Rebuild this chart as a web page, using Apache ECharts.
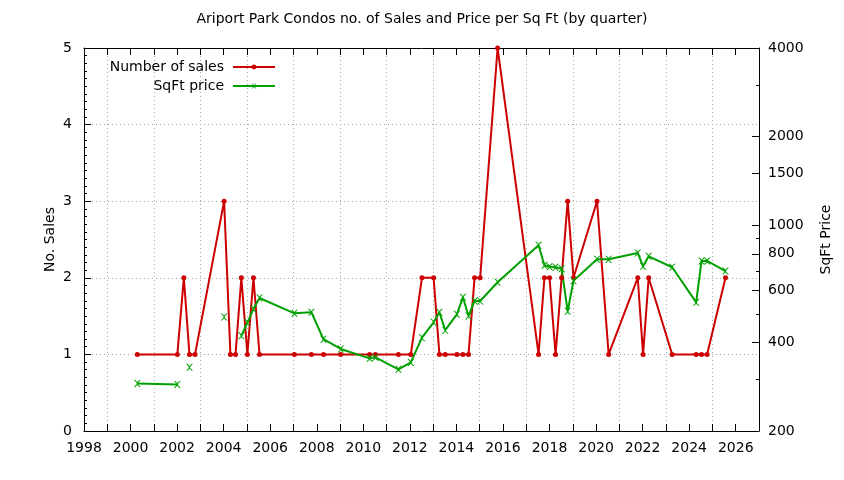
<!DOCTYPE html>
<html>
<head>
<meta charset="utf-8">
<script src="https://cdn.jsdelivr.net/npm/echarts@6/dist/echarts.min.js"></script>
<style>
html,body{margin:0;padding:0;background:#fff;}
#chart{width:844px;height:480px;}
</style>
</head>
<body>
<div id="chart"></div>
<script>
// Decimal years of each quarter with data
var quarters = [2000.29, 2002.01, 2002.29, 2002.53, 2002.77, 2004.02, 2004.29, 2004.51, 2004.76, 2005.02,
  2005.28, 2005.54, 2007.04, 2007.77, 2008.29, 2009.03, 2010.27, 2010.52, 2011.51, 2012.04,
  2012.52, 2013.02, 2013.27, 2013.52, 2014.02, 2014.28, 2014.52, 2014.78, 2015.02, 2015.77,
  2017.53, 2017.78, 2018.00, 2018.26, 2018.52, 2018.78, 2019.03, 2020.04, 2020.54, 2021.79,
  2022.02, 2022.26, 2023.27, 2024.30, 2024.53, 2024.77, 2025.56];
// Number of sales per quarter
var sales = [1, 1, 2, 1, 1, 3, 1, 1, 2, 1,
  2, 1, 1, 1, 1, 1, 1, 1, 1, 1,
  2, 2, 1, 1, 1, 1, 1, 2, 2, 5,
  1, 2, 2, 1, 2, 3, 2, 3, 1, 2,
  1, 2, 1, 1, 1, 1, 2];
// Price per sq ft per quarter (null = no value)
var sqftPrice = [290, 288, null, 329, null, 488, null, null, 421, 467,
  519, 566, 502, 506, 410, 380, 353, 356, 324, 342,
  415, 468, 506, 440, 498, 569, 492, 553, 553, 640,
  855, 731, 723, 720, 712, 510, 648, 766, 766, 805,
  725, 784, 720, 547, 756, 756, 699];
var priceLabelTicks = [200, 400, 600, 800, 1000, 1500, 2000, 4000];
var priceMinorTicks = [300, 500, 700, 900, 3000];
var titleText = 'Ariport Park Condos no. of Sales and Price per Sq Ft (by quarter)';

var FONT = 'DejaVu Sans';
var RED = '#cc0000', GREEN = '#00a000';
var GRIDCOL = '#a8a8a8';
var gridLine = {show: true, lineStyle: {color: GRIDCOL, type: [1, 3], width: 1}};

var salesData = quarters.map(function (q, i) { return [q, sales[i]]; });
var priceData = quarters.map(function (q, i) { return [q, sqftPrice[i] == null ? '-' : sqftPrice[i]]; });
var xMark = 'path://M0,0 L2,0 L5,3 L8,0 L10,0 L6,4 L6,6 L10,10 L8,10 L5,7 L2,10 L0,10 L4,6 L4,4 Z';

var PL = 84, PR = 85, PT = 48, PB = 49;
var yearPx = (844 - PL - PR) / (2027 - 1998);

var chart = echarts.init(document.getElementById('chart'), null, {renderer: 'canvas'});
var axLine = {show: true, onZero: false, lineStyle: {color: '#000', width: 1}};
var legendText = {fontFamily: FONT, fontSize: 14, color: '#000', padding: [0, 4, 0, 0]};
chart.setOption({
  animation: false,
  textStyle: {fontFamily: FONT},
  title: {text: titleText, left: 'center', top: 7,
    textStyle: {fontFamily: FONT, fontSize: 14, fontWeight: 'normal', color: '#000'}},
  grid: [
    {left: PL, right: PR, top: PT, bottom: PB, containLabel: false},
    // helper grid, one year wider on the left, used only for odd-year grid lines
    {left: PL - yearPx, right: PR, top: PT, bottom: PB, containLabel: false}
  ],
  legend: [{
    data: ['Number of sales'], orient: 'vertical', right: 844 - 276, top: 60, align: 'right', padding: 0,
    itemWidth: 42, itemHeight: 6, textStyle: legendText
  }, {
    data: ['SqFt price'], orient: 'vertical', right: 844 - 276, top: 79, align: 'right', padding: 0,
    itemWidth: 42, itemHeight: 6, textStyle: legendText
  }],
  xAxis: [{
    type: 'value', gridIndex: 0, position: 'bottom', min: 1998, max: 2027, interval: 1,
    axisLine: axLine,
    axisTick: {show: true, inside: true, length: 7, lineStyle: {color: '#000'}},
    axisLabel: {color: '#000', fontFamily: FONT, fontSize: 14, margin: 10, showMaxLabel: false,
      formatter: function (v) { return (v % 2 === 0) ? String(v) : ''; }},
    splitLine: {show: false}
  }, {
    type: 'value', gridIndex: 0, position: 'top', min: 1998, max: 2027, interval: 1,
    axisLine: axLine,
    axisTick: {show: true, inside: true, length: 7, lineStyle: {color: '#000'}},
    axisLabel: {show: false},
    splitLine: {show: false}
  }, {
    type: 'value', gridIndex: 1, position: 'bottom', min: 1997, max: 2027, interval: 2,
    axisLine: {show: false}, axisTick: {show: false}, axisLabel: {show: false},
    splitLine: {show: true, showMinLine: false, showMaxLine: false,
      lineStyle: {color: GRIDCOL, type: [1, 3], width: 1}}
  }],
  yAxis: [{
    type: 'value', gridIndex: 0, position: 'left', min: 0, max: 5, interval: 1,
    name: 'No. Sales', nameLocation: 'middle', nameGap: 27, nameRotate: 90, nameMoveOverlap: false,
    nameTextStyle: {fontFamily: FONT, fontSize: 14, color: '#000'},
    axisLine: axLine,
    axisTick: {show: true, inside: true, length: 7, lineStyle: {color: '#000'}},
    minorTick: {show: true, splitNumber: 10, length: 3, lineStyle: {color: '#000'}},
    axisLabel: {color: '#000', fontFamily: FONT, fontSize: 14, margin: 12},
    splitLine: gridLine
  }, {
    type: 'log', gridIndex: 0, logBase: 10, position: 'right', min: 200, max: 4000,
    name: 'SqFt Price', nameLocation: 'middle', nameGap: 60, nameRotate: 90,
    nameTextStyle: {fontFamily: FONT, fontSize: 14, color: '#000'},
    axisLine: axLine,
    axisTick: {show: true, inside: true, length: 7, customValues: priceLabelTicks, lineStyle: {color: '#000'}},
    axisLabel: {color: '#000', fontFamily: FONT, fontSize: 14, margin: 9, customValues: priceLabelTicks,
      formatter: function (v) { return String(Math.round(v)); }},
    splitLine: {show: false}
  }, {
    type: 'log', gridIndex: 0, logBase: 10, position: 'right', min: 200, max: 4000,
    axisLine: {show: false},
    axisTick: {show: true, inside: true, length: 3, customValues: priceMinorTicks, lineStyle: {color: '#000'}},
    axisLabel: {show: false, customValues: priceMinorTicks},
    splitLine: {show: false}
  }, {
    type: 'value', gridIndex: 1, min: 0, max: 1, show: false
  }],
  series: [{
    name: 'Number of sales', type: 'line', xAxisIndex: 0, yAxisIndex: 0,
    data: salesData, color: RED,
    symbol: 'circle', symbolSize: 5,
    lineStyle: {width: 2, color: RED}, itemStyle: {color: RED}
  }, {
    name: 'SqFt price', type: 'line', xAxisIndex: 0, yAxisIndex: 1,
    data: priceData, color: GREEN, connectNulls: false,
    symbol: xMark, symbolSize: 7,
    lineStyle: {width: 2, color: GREEN}, itemStyle: {color: GREEN}
  }]
});
</script>
</body>
</html>
